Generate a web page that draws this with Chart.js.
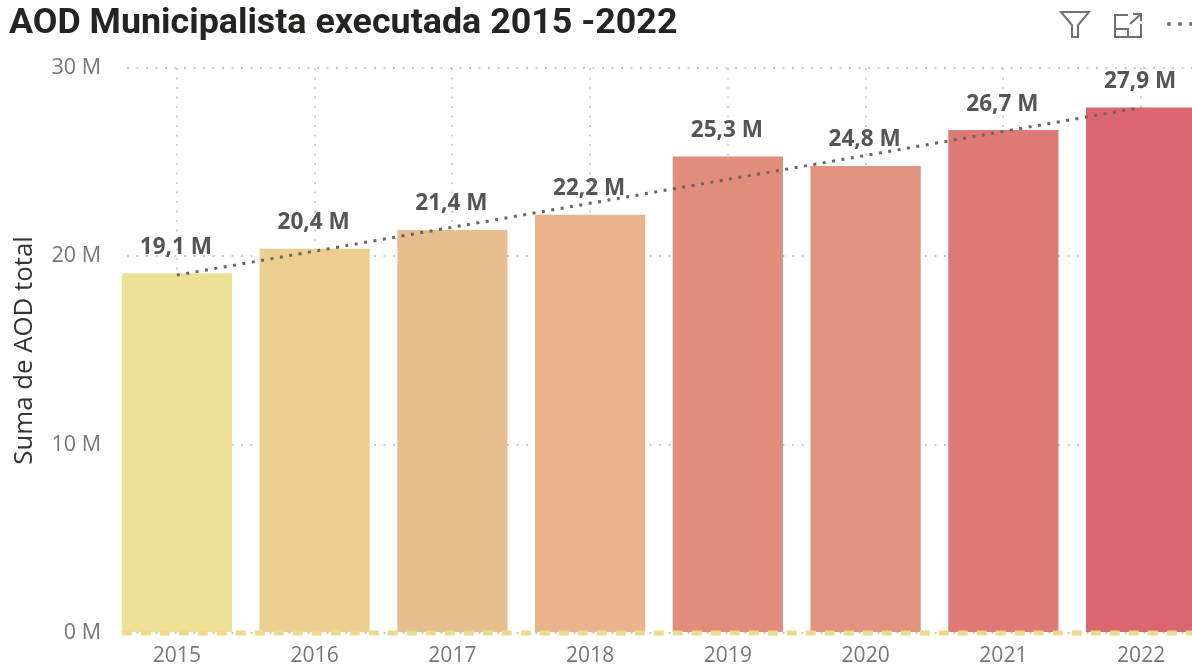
<!DOCTYPE html>
<html><head><meta charset="utf-8">
<script src="https://cdn.jsdelivr.net/npm/chart.js@4"></script>
<style>
html,body{margin:0;padding:0;background:#fff;overflow:hidden;width:1192px;height:665px}
#wrap{position:absolute;left:0;top:0;width:1210px;height:665px}
svg{position:absolute;left:0;top:0}
</style></head><body>
<div id="wrap"><canvas id="c" width="1210" height="665"></canvas></div>
<svg width="1192" height="665" fill="none" stroke="#707070" stroke-width="2">
<path d="M1061 12H1089L1078 25V37H1072V25Z"/>
<path d="M1128 15H1115V37H1141V24M1115 29H1128V37M1130 24L1141 14M1133 14H1141V21"/>
<g fill="#707070" stroke="none"><circle cx="1169" cy="24" r="2"/><circle cx="1180" cy="24" r="2"/><circle cx="1191" cy="24" r="2"/></g>
</svg>
<script>
const titleText = 'AOD Municipalista executada 2015 -2022';
const axisTitle = 'Suma de AOD total';
const years = ['2015','2016','2017','2018','2019','2020','2021','2022'];
const aodTotal = [19.1,20.4,21.4,22.2,25.3,24.8,26.7,27.9];
const trend = [19.0,null,null,null,null,null,null,27.9];
const barColors = ['#EEDF96','#EBCE90','#E9BE8E','#E9B48C','#E28D7C','#E29380','#DF7976','#DC6670'];

const gridMask = { id:'gridMask', beforeDatasetsDraw(ch){
  const a=ch.chartArea, c=ch.ctx; c.save(); c.fillStyle='#fff';
  c.fillRect(a.left-1,a.top-2,13,a.bottom-a.top+4); c.restore();
}};
const zeroLine = { id:'zeroLine', afterDatasetsDraw(ch){
  const c=ch.ctx, y=ch.scales.y.getPixelForValue(0), first=ch.getDatasetMeta(1).data[0];
  c.save(); c.strokeStyle='#ECD98B'; c.lineWidth=5; c.setLineDash([10,9]);
  c.beginPath(); c.moveTo(first.x-first.width/2,y); c.lineTo(ch.width,y); c.stroke(); c.restore();
}};
const barLabels = { id:'barLabels', afterDatasetsDraw(ch){
  const c=ch.ctx; c.save();
  c.font='bold 22.5px "Open Sans"'; c.fillStyle='#555'; c.textAlign='center'; c.textBaseline='middle';
  ch.getDatasetMeta(1).data.forEach((b,i)=>{
    c.fillText(aodTotal[i].toFixed(1).replace('.',',')+' M', b.x-1, b.y-26);
  }); c.restore();
}};

new Chart(document.getElementById('c'),{
  data:{labels:years,datasets:[
    {type:'line',data:trend,spanGaps:true,borderColor:'#666',borderWidth:3,borderDash:[3,6.5],
     pointRadius:0,tension:0,order:0,clip:false},
    {type:'bar',data:aodTotal,backgroundColor:barColors,barPercentage:0.8,categoryPercentage:1,order:1}
  ]},
  plugins:[gridMask,zeroLine,barLabels],
  options:{
    responsive:false,animation:false,
    layout:{padding:{left:9,right:0,top:0,bottom:0}},
    plugins:{
      legend:{display:false},tooltip:{enabled:false},
      title:{display:true,text:titleText,align:'start',color:'#252423',
        font:{family:'Roboto',size:35.8,weight:'bold',lineHeight:1.2},padding:{top:3,bottom:22}}
    },
    scales:{
      x:{offset:true,
        afterFit(s){s.height=32;},
        grid:{color:'#D2D2D2',lineWidth:2,drawTicks:false,offset:false},
        border:{display:false,dash:[2,7.5]},
        ticks:{color:'#777',font:{family:'Open Sans',size:21},padding:10,maxRotation:0}},
      y:{min:0,max:30,
        afterFit(s){s.width=99;},
        title:{display:true,text:axisTitle,color:'#333',font:{family:'Open Sans',size:25.8},padding:0},
        grid:{color:'#C8C8C8',lineWidth:2,drawTicks:false},
        border:{display:false,dash:[2,7.5]},
        ticks:{stepSize:10,color:'#777',padding:7,font:{family:'Open Sans',size:21.5},callback:v=>v+' M'}}
    }
  }
});
</script></body></html>
